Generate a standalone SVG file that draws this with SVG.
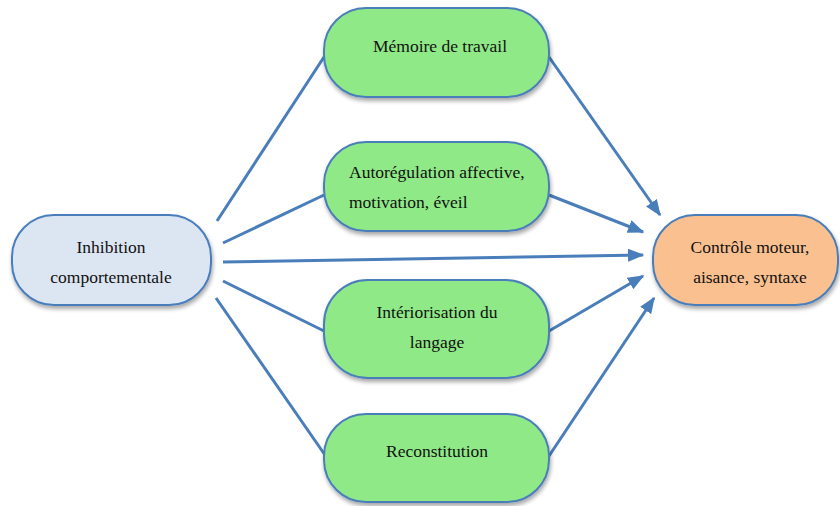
<svg xmlns="http://www.w3.org/2000/svg" width="840" height="506" viewBox="0 0 840 506">
<style>
.node{stroke:#4a7ebb;stroke-width:2;filter:url(#sh)}
.g{fill:#8fe987}
.t{font-family:"Liberation Serif","Times New Roman",serif;font-size:17.5px;fill:#111}
.c{text-anchor:middle}
.ln{stroke:#4a7ebb;stroke-width:3;fill:none}
.ar{marker-end:url(#ah)}
</style>
<defs>
<filter id="sh" x="-10%" y="-10%" width="120%" height="130%">
<feGaussianBlur in="SourceAlpha" stdDeviation="2"/>
<feOffset dx="1" dy="3" result="b"/>
<feComponentTransfer><feFuncA type="linear" slope="0.35"/></feComponentTransfer>
<feMerge><feMergeNode/><feMergeNode in="SourceGraphic"/></feMerge>
</filter>
<marker id="ah" markerWidth="5.5" markerHeight="4.4" refX="5" refY="2.2" orient="auto" markerUnits="strokeWidth">
<path d="M0,0 L5.5,2.2 L0,4.4 z" fill="#4a7ebb"/>
</marker>
</defs>
<g id="connectors">
<line class="ln" x1="217" y1="221" x2="324" y2="57"/>
<line class="ln" x1="223" y1="243" x2="324" y2="195"/>
<line class="ln ar" x1="223" y1="262" x2="643" y2="255"/>
<line class="ln" x1="223" y1="281" x2="324" y2="331"/>
<line class="ln" x1="216" y1="298" x2="325" y2="455"/>
<line class="ln ar" x1="549" y1="57" x2="660" y2="215"/>
<line class="ln ar" x1="549" y1="195" x2="643" y2="232"/>
<line class="ln ar" x1="549" y1="331" x2="643" y2="276"/>
<line class="ln ar" x1="549" y1="456" x2="654" y2="298"/>
</g>
<g id="inhibition">
<rect class="node" x="12" y="215" width="199" height="90" rx="42" fill="#dce6f2"/>
<text class="t c" x="111" y="253">Inhibition</text>
<text class="t c" x="111" y="283">comportementale</text>
</g>
<g id="memoire">
<rect class="node g" x="324" y="8" width="225" height="89" rx="42"/>
<text class="t c" x="440" y="52">Mémoire de travail</text>
</g>
<g id="autoregulation">
<rect class="node g" x="324" y="142" width="225" height="89" rx="42"/>
<text class="t" x="349" y="178">Autorégulation affective,</text>
<text class="t" x="349" y="208">motivation, éveil</text>
</g>
<g id="interiorisation">
<rect class="node g" x="324" y="280" width="225" height="98" rx="44"/>
<text class="t c" x="437" y="318">Intériorisation du</text>
<text class="t c" x="437" y="348">langage</text>
</g>
<g id="reconstitution">
<rect class="node g" x="324" y="414" width="225" height="88" rx="42"/>
<text class="t c" x="437" y="457">Reconstitution</text>
</g>
<g id="controle">
<rect class="node" x="653" y="215" width="185" height="90" rx="42" fill="#fac090"/>
<text class="t c" x="750" y="253">Contrôle moteur,</text>
<text class="t c" x="750" y="283">aisance, syntaxe</text>
</g>
</svg>
